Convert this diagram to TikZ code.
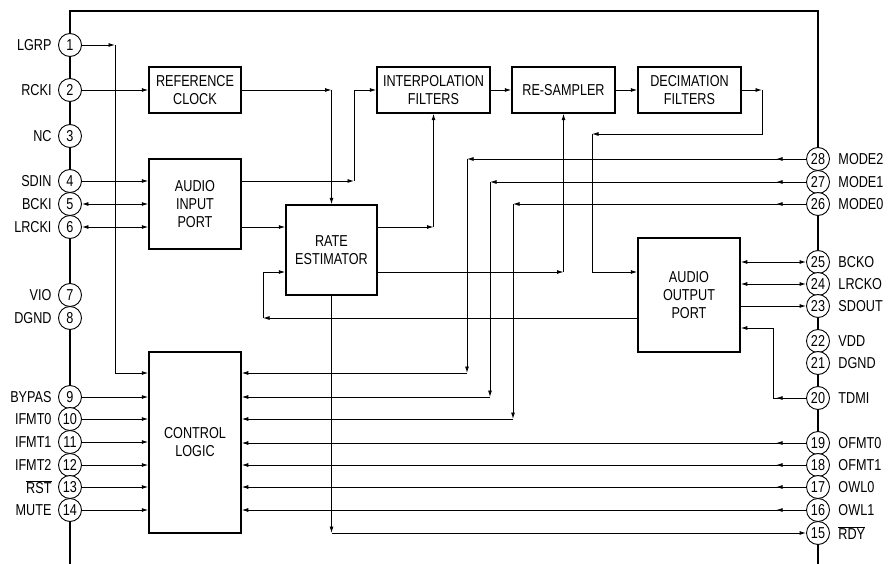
\documentclass[tikz,border=0pt]{standalone}
\usepackage{fontspec}
\setmainfont{Liberation Sans}[FakeStretch=0.8]
\usetikzlibrary{arrows.meta,decorations.markings,calc}
\begin{document}
\begin{tikzpicture}[x=1pt,y=-1pt,
  >={Latex[length=6.5pt,width=4pt]},
  every node/.style={font=\fontsize{15.8}{18}\selectfont},
  blk/.style={draw,line width=1.5pt,align=center,inner sep=0pt},
  pin/.style={circle,draw,fill=white,line width=0.9pt,minimum size=23pt,inner sep=0pt},
  lpin/.style={pin,label={[label distance=3pt]left:#1}},
  rpin/.style={pin,label={[label distance=5pt]right:#1}},
  con/.style={line width=0.9pt,line join=miter},
  pinin/.style={postaction={decorate},decoration={markings,mark=at position 30pt with {\arrow{>}}}}
]
\useasboundingbox (0,0) rectangle (888,564);
% chip outline
\draw[line width=2.8pt,line join=miter] (70,570) -- (70,11) -- (818,11) -- (818,570);

% blocks
\node[blk,minimum width=92pt,minimum height=46pt] (ref) at (195,90) {REFERENCE\\CLOCK};
\node[blk,minimum width=92pt,minimum height=90pt] (aip) at (195,204) {AUDIO\\INPUT\\PORT};
\node[blk,minimum width=91pt,minimum height=90pt] (re) at (331.5,250) {RATE\\ESTIMATOR};
\node[blk,minimum width=113pt,minimum height=46pt] (interp) at (433.5,90) {INTERPOLATION\\FILTERS};
\node[blk,minimum width=103pt,minimum height=46pt] (resamp) at (563.5,90) {RE-SAMPLER};
\node[blk,minimum width=103pt,minimum height=46pt] (dec) at (689.5,90) {DECIMATION\\FILTERS};
\node[blk,minimum width=102pt,minimum height=114pt] (aop) at (689,295) {AUDIO\\OUTPUT\\PORT};
\node[blk,minimum width=92pt,minimum height=181pt] (cl) at (195,442.5) {CONTROL\\LOGIC};

% left pins
\node[lpin=LGRP] (p1) at (70,45) {1};
\node[lpin=RCKI] (p2) at (70,90) {2};
\node[lpin=NC] (p3) at (70,136) {3};
\node[lpin=SDIN] (p4) at (70,181) {4};
\node[lpin=BCKI] (p5) at (70,204) {5};
\node[lpin=LRCKI] (p6) at (70,227) {6};
\node[lpin=VIO] (p7) at (70,295) {7};
\node[lpin=DGND] (p8) at (70,318) {8};
\node[lpin=BYPAS] (p9) at (70,397) {9};
\node[lpin=IFMT0] (p10) at (70,419) {10};
\node[lpin=IFMT1] (p11) at (70,442) {11};
\node[lpin=IFMT2] (p12) at (70,465) {12};
\node[lpin={$\overline{\hbox{RST}}$}] (p13) at (70,487) {13};
\node[lpin=MUTE] (p14) at (70,510) {14};

% right pins
\node[rpin=MODE2] (p28) at (818,159) {28};
\node[rpin=MODE1] (p27) at (818,182) {27};
\node[rpin=MODE0] (p26) at (818,204) {26};
\node[rpin=BCKO] (p25) at (818,262) {25};
\node[rpin=LRCKO] (p24) at (818,284) {24};
\node[rpin=SDOUT] (p23) at (818,306) {23};
\node[rpin=VDD] (p22) at (818,341) {22};
\node[rpin=DGND] (p21) at (818,363) {21};
\node[rpin=TDMI] (p20) at (818,398) {20};
\node[rpin=OFMT0] (p19) at (818,443) {19};
\node[rpin=OFMT1] (p18) at (818,465) {18};
\node[rpin=OWL0] (p17) at (818,487) {17};
\node[rpin=OWL1] (p16) at (818,510) {16};
\node[rpin={$\overline{\hbox{RDY}}$}] (p15) at (818,533) {15};

% corner coordinates
\coordinate (c1a) at (115,45);
\coordinate (c1b) at (115,373);
\coordinate (c3) at (331.5,90);
\coordinate (c7a) at (354,181);
\coordinate (c7b) at (354,90);
\coordinate (c9) at (433.5,227);
\coordinate (c10) at (563.5,272);
\coordinate (c13a) at (762,90);
\coordinate (c13b) at (762,134);
\coordinate (c13c) at (592,134);
\coordinate (c13d) at (592,272);
\coordinate (c14a) at (263,318);
\coordinate (c14b) at (263,272);
\coordinate (m2a) at (467,159);
\coordinate (m2b) at (467,373);
\coordinate (m1a) at (490,182);
\coordinate (m1b) at (490,397);
\coordinate (m0a) at (513,204);
\coordinate (m0b) at (513,419);
\coordinate (c19) at (331.5,533);
\coordinate (c20a) at (773,398);
\coordinate (c20b) at (773,328);

% left side connectors
\draw[con,->] (p1.east) -- (c1a);
\draw[con,->] (c1a) -- (c1b) -- (cl.west |- c1b);
\draw[con,->] (p2.east) -- (ref.west);
\draw[con,->] (p4.east) -- (aip.west |- p4);
\draw[con,<->] (p5.east) -- (aip.west |- p5);
\draw[con,<->] (p6.east) -- (aip.west |- p6);
\foreach \i in {9,...,14} \draw[con,->] (p\i.east) -- (cl.west |- p\i);

% internal flow
\draw[con,->] (ref.east) -- (c3);
\draw[con,->] (c3) -- (re.north);
\draw[con,->] (aip.east |- c7a) -- (c7a);
\draw[con,->] (c7a) -- (c7b) -- (interp.west);
\draw[con,->] (aip.east |- p6) -- (re.west |- p6);
\draw[con,->] (re.east |- c9) -- (c9);
\draw[con,->] (c9) -- (interp.south);
\draw[con,->] (re.east |- c10) -- (c10);
\draw[con,->] (c10) -- (resamp.south);
\draw[con,->] (interp.east) -- (resamp.west);
\draw[con,->] (resamp.east) -- (dec.west);
\draw[con,->] (dec.east) -- (c13a);
\draw[con,->] (c13a) -- (c13b) -- (c13c);
\draw[con,->] (c13c) -- (c13d) -- (aop.west |- c13d);
\draw[con,->] (aop.west |- c14a) -- (c14a);
\draw[con,->] (c14a) -- (c14b) -- (re.west |- c14b);

% mode pins
\draw[con,pinin,->] (p28.west) -- (m2a);
\draw[con,->] (m2a) -- (m2b);
\draw[con,->] (m2b) -- (cl.east |- m2b);
\draw[con,pinin,->] (p27.west) -- (m1a);
\draw[con,->] (m1a) -- (m1b);
\draw[con,->] (m1b) -- (cl.east |- m1b);
\draw[con,pinin,->] (p26.west) -- (m0a);
\draw[con,->] (m0a) -- (m0b);
\draw[con,->] (m0b) -- (cl.east |- m0b);
\foreach \i in {16,...,19} \draw[con,pinin,->] (p\i.west) -- (cl.east |- p\i);

% rdy
\draw[con,->] (re.south) -- (c19);
\draw[con,->] (c19) -- (p15.west);

% output port pins
\draw[con,<->] (aop.east |- p25) -- (p25.west);
\draw[con,<->] (aop.east |- p24) -- (p24.west);
\draw[con,->] (aop.east |- p23) -- (p23.west);
\draw[con,pinin] (p20.west) -- (c20a);
\draw[con,->] (c20a) -- (c20b) -- (aop.east |- c20b);
\end{tikzpicture}
\end{document}
